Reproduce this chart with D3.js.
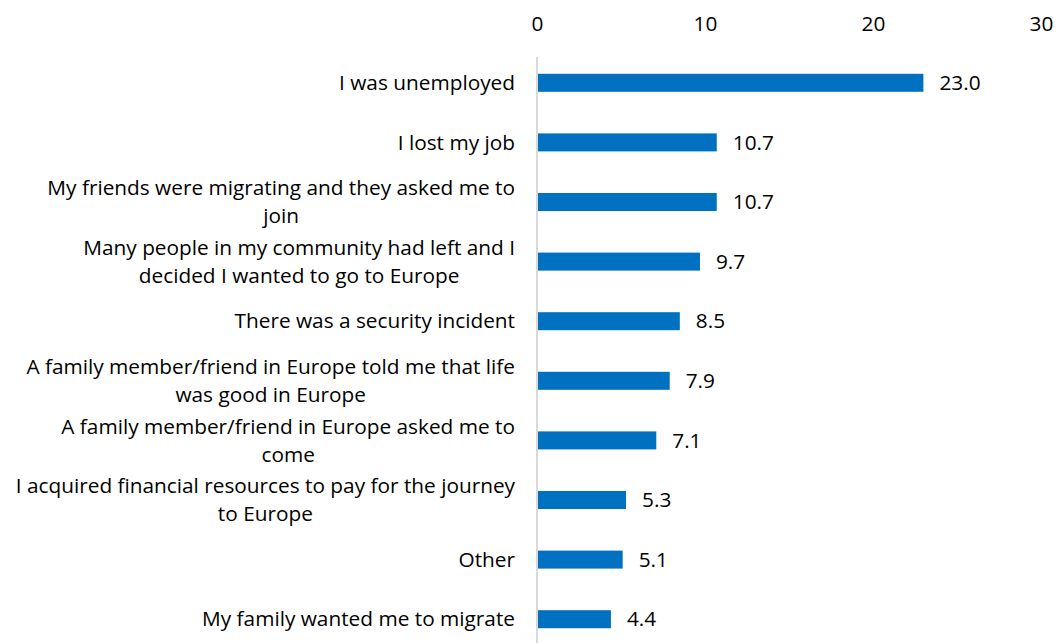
<!DOCTYPE html>
<html>
<head>
<meta charset="utf-8">
<script src="https://cdn.jsdelivr.net/npm/d3@7"></script>
<style>
  html, body { margin: 0; padding: 0; background: #fff; }
  svg { display: block; font-family: "Open Sans", Lato, sans-serif; }
</style>
</head>
<body>
<svg id="chart" width="1059" height="643"></svg>
<script>
// Reasons for leaving (percent of respondents)
const categories = [
  ["I was unemployed"],
  ["I lost my job"],
  ["My friends were migrating and they asked me to", "join"],
  ["Many people in my community had left and I", "decided I wanted to go to Europe"],
  ["There was a security incident"],
  ["A family member/friend in Europe told me that life", "was good in Europe"],
  ["A family member/friend in Europe asked me to", "come"],
  ["I acquired financial resources to pay for the journey", "to Europe"],
  ["Other"],
  ["My family wanted me to migrate"]
];
const values = [23.0, 10.7, 10.7, 9.7, 8.5, 7.9, 7.1, 5.3, 5.1, 4.4];
const tickValues = [0, 10, 20, 30];

const svg = d3.select("#chart");
const fontFamily = "'Open Sans', Lato, sans-serif";
const fontSize = 20.8;
const barColor = "#0070C0";
const barHeight = 18;

const x = d3.scaleLinear().domain([0, 30]).range([537, 1041]);
const y = d3.scaleBand()
  .domain(d3.range(values.length))
  .range([53, 649])
  .padding(0);

// Top value axis: labels only, no domain line or tick marks
const xAxis = d3.axisTop(x).tickValues(tickValues).tickSize(0).tickPadding(0).tickFormat(d3.format("d"));
svg.append("g")
  .attr("transform", "translate(0,31)")
  .call(xAxis)
  .call(g => g.select(".domain").remove())
  .call(g => g.selectAll("text")
    .attr("font-size", fontSize)
    .attr("font-family", fontFamily)
    .attr("fill", "#000"));

// Category axis line
svg.append("line")
  .attr("x1", x(0)).attr("x2", x(0))
  .attr("y1", 57).attr("y2", 643)
  .attr("stroke", "#d9d9d9")
  .attr("stroke-width", 2);

// Bars
svg.append("g").selectAll("rect")
  .data(values)
  .join("rect")
  .attr("x", x(0) + 1)
  .attr("y", (d, i) => y(i) + y.bandwidth() / 2 - barHeight / 2)
  .attr("width", d => x(d) - x(0) - 1)
  .attr("height", barHeight)
  .attr("fill", barColor);

// Value labels
svg.append("g").selectAll("text")
  .data(values)
  .join("text")
  .attr("x", d => x(d) + 16)
  .attr("y", (d, i) => y(i) + y.bandwidth() / 2)
  .attr("dy", "0.35em")
  .attr("font-size", fontSize)
  .attr("fill", "#000")
  .text(d => d.toFixed(1));

// Category labels: block right-aligned to the axis, lines centred within the block
const labelRight = 515;
const lineGap = 28;
const labels = svg.append("g");
categories.forEach((lines, i) => {
  const cy = y(i) + y.bandwidth() / 2;
  const texts = lines.map((line, k) => labels.append("text")
    .attr("y", cy + (k - (lines.length - 1) / 2) * lineGap)
    .attr("dy", "0.35em")
    .attr("font-size", fontSize)
    .attr("fill", "#000")
    .attr("text-anchor", "middle")
    .text(line));
  const maxW = d3.max(texts, t => t.node().getComputedTextLength());
  texts.forEach(t => t.attr("x", labelRight - maxW / 2));
});
</script>
</body>
</html>
